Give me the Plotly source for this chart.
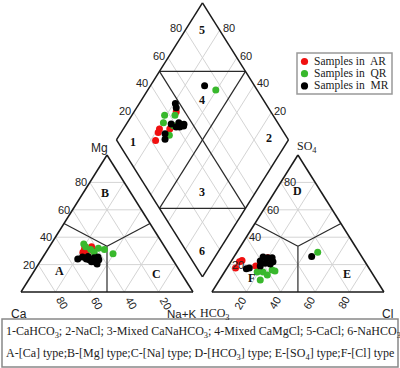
import numpy as np
import plotly.graph_objects as go

# ---------------- data (percent of meq) ----------------
ar_ca   = [47, 47, 43, 42.5, 49.5]
ar_mg   = [30, 32, 30, 33, 29]
ar_nak  = [23, 21, 27, 24.5, 21.5]
ar_hco3 = [77.5, 71, 65, 55, 73]
ar_so4  = [17.5, 23, 19, 25, 22]
ar_cl   = [5, 6, 16, 20, 5]

qr_ca   = [46, 46, 44, 36, 39, 43, 32.5]
qr_mg   = [35, 33, 31, 31, 32, 29, 28]
qr_nak  = [19, 21, 25, 33, 29, 28, 39.5]
qr_hco3 = [63, 66.4, 57, 55.7, 67.5, 61.6, 24]
qr_so4  = [14.6, 14.6, 16, 15.3, 8.8, 12.4, 29]
qr_cl   = [22.4, 19, 27, 29, 23.7, 26, 47]

mr_ca   = [46.5, 55, 45, 43, 42.5, 48.5, 48, 51.5, 45.5, 48, 50]
mr_mg   = [22, 24, 25, 23.5, 25.5, 23.5, 26, 25.5, 20.5, 22, 24]
mr_nak  = [31.5, 21, 30, 33.5, 32, 28, 26, 23, 34, 30, 26]
mr_hco3 = [29, 52.5, 57.5, 55, 58.5, 71.5, 69.5, 53.5, 55.9, 60.6, 62.4]
mr_so4  = [26, 25, 25.5, 25, 21, 17, 17.5, 22, 20.4, 22.6, 19]
mr_cl   = [45, 22.5, 17, 20, 20.5, 11.5, 13, 24.5, 23.7, 16.8, 18.6]

grid_levels = [20, 40, 60, 80]
tick_labels = ["20", "40", "60", "80"]
series_names = ["Samples in  AR", "Samples in  QR", "Samples in  MR"]
series_colors = ["#f01010", "#38b82c", "#000000"]

# ---------------- geometry ----------------
H = np.sqrt(3) / 2
G = 0.11


def cat_xy(ca, mg, nak):
    ca, mg, nak = map(np.asarray, (ca, mg, nak))
    t = ca + mg + nak
    mg, nak = mg / t, nak / t
    return nak + mg / 2, mg * H


def an_xy(hco3, so4, cl):
    hco3, so4, cl = map(np.asarray, (hco3, so4, cl))
    t = hco3 + so4 + cl
    so4, cl = so4 / t, cl / t
    return 1 + G + cl + so4 / 2, so4 * H


def dia_xy(camg, so4cl):
    camg, so4cl = np.asarray(camg), np.asarray(so4cl)
    bx, by = 1 + G / 2, G * H
    return bx + 0.5 * (so4cl - camg), by + H * (camg + so4cl)


def group_xy(ca, mg, nak, hco3, so4, cl):
    cx, cy = cat_xy(ca, mg, nak)
    ax, ay = an_xy(hco3, so4, cl)
    ca, mg, nak = map(np.asarray, (ca, mg, nak))
    hco3, so4, cl = map(np.asarray, (hco3, so4, cl))
    camg = (ca + mg) / (ca + mg + nak)
    so4cl = (so4 + cl) / (hco3 + so4 + cl)
    dx, dy = dia_xy(camg, so4cl)
    return np.concatenate([cx, ax, dx]), np.concatenate([cy, ay, dy])


def seg_trace(segs, color, width):
    xs, ys = [], []
    for (x0, y0), (x1, y1) in segs:
        xs += [x0, x1, None]
        ys += [y0, y1, None]
    return go.Scatter(x=xs, y=ys, mode="lines", line=dict(color=color, width=width),
                      hoverinfo="skip", showlegend=False)


def P(x, y):
    return (float(x), float(y))


grid, outline, facies = [], [], []

for k in grid_levels:
    f = k / 100
    grid.append((P(*cat_xy(1 - f, f, 0)), P(*cat_xy(0, f, 1 - f))))     # Mg
    grid.append((P(*cat_xy(f, 0, 1 - f)), P(*cat_xy(f, 1 - f, 0))))     # Ca
    grid.append((P(*cat_xy(1 - f, 0, f)), P(*cat_xy(0, 1 - f, f))))     # Na+K
    grid.append((P(*an_xy(1 - f, f, 0)), P(*an_xy(0, f, 1 - f))))       # SO4
    grid.append((P(*an_xy(1 - f, 0, f)), P(*an_xy(0, 1 - f, f))))       # Cl
    grid.append((P(*an_xy(f, 0, 1 - f)), P(*an_xy(f, 1 - f, 0))))       # HCO3
    grid.append((P(*dia_xy(f, 0)), P(*dia_xy(f, 1))))
    grid.append((P(*dia_xy(0, f)), P(*dia_xy(1, f))))

ca0, mg0, nk0 = P(*cat_xy(1, 0, 0)), P(*cat_xy(0, 1, 0)), P(*cat_xy(0, 0, 1))
h0, s0, c0 = P(*an_xy(1, 0, 0)), P(*an_xy(0, 1, 0)), P(*an_xy(0, 0, 1))
d_b, d_l, d_t, d_r = P(*dia_xy(0, 0)), P(*dia_xy(1, 0)), P(*dia_xy(1, 1)), P(*dia_xy(0, 1))
outline += [(ca0, nk0), (nk0, mg0), (mg0, ca0), (h0, c0), (c0, s0), (s0, h0),
            (d_b, d_l), (d_l, d_t), (d_t, d_r), (d_r, d_b)]

cc = P(*cat_xy(1, 1, 1))
facies += [(P(*cat_xy(1, 1, 0)), cc), (P(*cat_xy(0, 1, 1)), cc), (P(*cat_xy(1, 0, 1)), cc)]
ac = P(*an_xy(1, 1, 1))
facies += [(P(*an_xy(1, 1, 0)), ac), (P(*an_xy(0, 1, 1)), ac), (P(*an_xy(1, 0, 1)), ac)]
facies += [(P(*dia_xy(0.5, 0)), P(*dia_xy(0.5, 1))), (P(*dia_xy(0, 0.5)), P(*dia_xy(1, 0.5))),
           (P(*dia_xy(1, 0.5)), P(*dia_xy(0.5, 1))), (P(*dia_xy(0.5, 0)), P(*dia_xy(0, 0.5)))]

fig = go.Figure()
fig.add_trace(seg_trace(grid, "#d4d4d4", 1))
fig.add_trace(seg_trace(facies, "#2a2a2a", 1.2))
fig.add_trace(seg_trace(outline, "#1a1a1a", 1.5))

groups = [
    (ar_ca, ar_mg, ar_nak, ar_hco3, ar_so4, ar_cl),
    (qr_ca, qr_mg, qr_nak, qr_hco3, qr_so4, qr_cl),
    (mr_ca, mr_mg, mr_nak, mr_hco3, mr_so4, mr_cl),
]
for name, col, vals in zip(series_names, series_colors, groups):
    x, y = group_xy(*vals)
    fig.add_trace(go.Scatter(x=x, y=y, mode="markers", name=name, showlegend=False,
                             marker=dict(color=col, size=7, line=dict(width=0))))

ann = []
tf = dict(family="Liberation Sans, Arial", size=11, color="#222")
for k, lab in zip(grid_levels, tick_labels):
    f = k / 100
    x, y = cat_xy(1 - f, f, 0)
    ann.append(dict(x=x, y=y, text=lab, xanchor="right", yanchor="middle", xshift=-1, font=tf))
    x, y = cat_xy(f, 0, 1 - f)
    ann.append(dict(x=x, y=y, text=lab, textangle=60, xanchor="center", yanchor="middle",
                    xshift=7, yshift=-11, font=tf))
    x, y = an_xy(1 - f, f, 0)
    ann.append(dict(x=x, y=y, text=lab, xanchor="left", yanchor="middle", xshift=1, font=tf))
    x, y = an_xy(1 - f, 0, f)
    ann.append(dict(x=x, y=y, text=lab, textangle=-60, xanchor="center", yanchor="middle",
                    xshift=-6, yshift=-11, font=tf))
    x, y = dia_xy(1, f)
    ann.append(dict(x=x, y=y, text=lab, xanchor="right", yanchor="middle", xshift=-1, yshift=2, font=tf))
    x, y = dia_xy(f, 1)
    ann.append(dict(x=x, y=y, text=lab, xanchor="left", yanchor="middle", xshift=1, yshift=2, font=tf))

nf = dict(family="Liberation Sans, Arial", size=12, color="#222")
sf = dict(family="Liberation Serif, Times New Roman", size=12, color="#222")
ann += [
    dict(x=mg0[0], y=mg0[1], text="Mg", xanchor="right", yanchor="bottom", xshift=3, yshift=-2, font=nf),
    dict(x=s0[0], y=s0[1], text="SO<sub>4</sub>", xanchor="left", yanchor="bottom", xshift=-3, yshift=-2, font=sf),
    dict(x=ca0[0], y=ca0[1], text="Ca", xanchor="center", yanchor="middle", xshift=-2, yshift=-22, font=nf),
    dict(x=nk0[0], y=nk0[1], text="Na+K", xanchor="center", yanchor="middle", xshift=-12, yshift=-22,
         font=dict(family="Liberation Sans, Arial", size=11.5, color="#222")),
    dict(x=h0[0], y=h0[1], text="HCO<sub>3</sub>", xanchor="center", yanchor="middle", xshift=3, yshift=-22, font=sf),
    dict(x=c0[0], y=c0[1], text="Cl", xanchor="center", yanchor="middle", xshift=4, yshift=-22, font=nf),
]

rf = dict(family="Liberation Serif, Times New Roman", size=12, color="#111")
regions = [("A", *cat_xy(70, 15, 15)), ("B", *cat_xy(15, 72, 13)), ("C", *cat_xy(15, 13, 72)),
           ("D", *an_xy(13, 74, 13)), ("E", *an_xy(15, 13, 72)), ("F", *an_xy(72, 10, 18)),
           ("1", *dia_xy(0.896, 0.089)), ("2", *dia_xy(0.12, 0.894)), ("3", *dia_xy(0.31, 0.31)),
           ("4", *dia_xy(0.645, 0.645)), ("5", *dia_xy(0.9, 0.9)), ("6", *dia_xy(0.095, 0.095))]
for t, x, y in regions:
    ann.append(dict(x=x, y=y, text="<b>%s</b>" % t, xanchor="center", yanchor="middle", font=rf))

bf = dict(family="Liberation Serif, Times New Roman", size=12, color="#222")
ann += [
    dict(xref="paper", yref="paper", x=4 / 400, y=1 - 332 / 368, xanchor="left", yanchor="middle",
         text="1-CaHCO<sub>3</sub>; 2-NaCl; 3-Mixed CaNaHCO<sub>3</sub>; 4-Mixed CaMgCl; 5-CaCl; 6-NaHCO<sub>3</sub>",
         font=bf),
    dict(xref="paper", yref="paper", x=4 / 400, y=1 - 354 / 368, xanchor="left", yanchor="middle",
         text="A-[Ca] type;B-[Mg] type;C-[Na] type; D-[HCO<sub>3</sub>] type; E-[SO<sub>4</sub>] type;F-[Cl] type",
         font=bf),
]

# legend box (drawn manually so it fits the reference's compact size)
shapes = [dict(type="rect", xref="paper", yref="paper", x0=2 / 400, x1=398 / 400,
               y0=1 / 368, y1=1 - 319 / 368, line=dict(color="#888", width=1.5)),
          dict(type="rect", xref="paper", yref="paper", x0=297 / 400, x1=392 / 400,
               y0=1 - 94 / 368, y1=1 - 53 / 368, line=dict(color="#999", width=1.5),
               fillcolor="white", layer="above")]
lf = dict(family="Liberation Serif, Times New Roman", size=11.5, color="#222")
for i, (name, col) in enumerate(zip(series_names, series_colors)):
    cy = 61.5 + i * 12.2
    r = 3.6
    shapes.append(dict(type="circle", xref="paper", yref="paper",
                       x0=(304.5 - r) / 400, x1=(304.5 + r) / 400,
                       y0=1 - (cy + r) / 368, y1=1 - (cy - r) / 368,
                       fillcolor=col, line=dict(width=0), layer="above"))
    ann.append(dict(xref="paper", yref="paper", x=312 / 400, y=1 - cy / 368,
                    xanchor="left", yanchor="middle", text=name, font=lf))

for a in ann:
    a.setdefault("showarrow", False)

fig.update_layout(
    width=400, height=368, autosize=False,
    margin=dict(l=0, r=0, t=0, b=0),
    paper_bgcolor="white", plot_bgcolor="white",
    xaxis=dict(range=[-21 / 172, 379 / 172], visible=False, fixedrange=True),
    yaxis=dict(range=[-76 / 158.2, 292 / 158.2], visible=False, fixedrange=True),
    annotations=ann,
    shapes=shapes,
    showlegend=False,
)
fig.write_html("out.html", config={"displayModeBar": False},
               post_script="document.body.style.margin='0';document.body.style.overflow='hidden';")
